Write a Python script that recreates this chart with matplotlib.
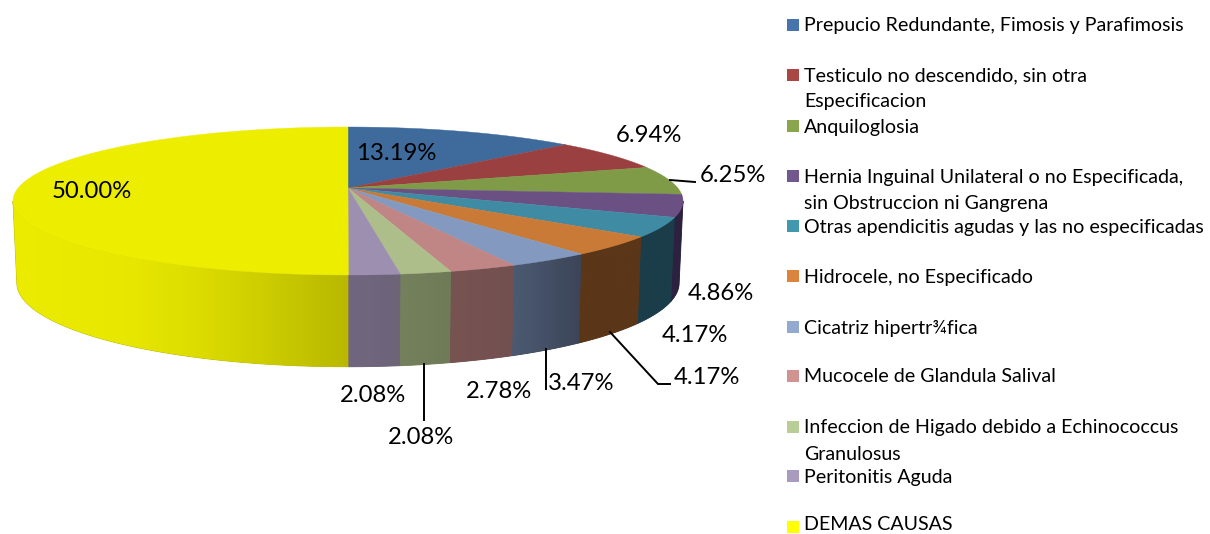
#!/usr/bin/env python3
"""Pie 3D de causas, con perspectiva, dibujado sobre un eje en pixeles"""

import numpy as np
import matplotlib
matplotlib.use('Agg')
import matplotlib.pyplot as plt
from matplotlib.colors import to_rgb
from matplotlib.patches import Polygon, Rectangle

# datos
categorias = [
    "Prepucio Redundante, Fimosis y Parafimosis",
    "Testiculo no descendido, sin otra\nEspecificacion",
    "Anquiloglosia",
    "Hernia Inguinal Unilateral o no Especificada,\nsin Obstruccion ni Gangrena",
    "Otras apendicitis agudas y las no especificadas",
    "Hidrocele, no Especificado",
    "Cicatriz hipertr¾fica",
    "Mucocele de Glandula Salival",
    "Infeccion de Higado debido a Echinococcus\nGranulosus",
    "Peritonitis Aguda",
    "DEMAS CAUSAS",
]
porcentajes = [13.19, 6.94, 6.25, 4.86, 4.17, 4.17, 3.47, 2.78, 2.08, 2.08, 50.00]

# colores
col_leyenda = ['#4674ab', '#aa4643', '#89a54e', '#71588f', '#4198af', '#db843d',
               '#93a9cf', '#d19392', '#b9cd96', '#a99bbd', '#ffff00']
col_tapa = ['#3f6a9c', '#9b4040', '#7f9b48', '#6a5083', '#3e8ba3', '#c87a36',
            '#8499bf', '#c08585', '#adbe8b', '#9c8fb0', '#eded00']
col_pared_izq = ['#000000', '#000000', '#000000', '#2c2240', '#1b3d4a', '#5b3618',
                 '#4c5b72', '#775452', '#75805d', '#706680', '#ecec00']
col_pared_der = ['#000000', '#000000', '#000000', '#2c2240', '#1b3d4a', '#5b3618',
                 '#3c4458', '#735050', '#6f7a58', '#6e6478', '#b8b800']

# etiquetas: (centro x, centro y) en pixeles, mismo orden que porcentajes
etiquetas_pos = [(396, 153), (649, 135), (733, 175), (721, 293), (695, 336), (707, 377),
                 (581, 383), (499, 391), (373, 395), (421, 438), (92, 192)]
guias = [([670, 695], [180, 182]),
         ([610, 658, 670], [332, 384, 384]),
         ([546, 546], [349, 389]),
         ([424, 424], [364, 420])]
leyenda_y = [25, 75, 126, 176, 226, 276, 327, 376, 427, 476, 527]

FUENTE = 'Lato'
CX = 348
K = 0.1757  # perspectiva


def aro(theta, a, b, cy):
    """Proyecta angulos (horario desde arriba) al plano de la imagen"""
    u, v = np.sin(theta), np.cos(theta)
    w = 1 + K * v
    return CX + a * u / w, cy - b * v / w


def tapa(theta):
    return aro(theta, 329.8, 71.7, 188)


def base(theta):
    return aro(theta, 326.0, 81.4, 268)


fig = plt.figure(figsize=(12.10, 5.34), dpi=100)
ax = fig.add_axes([0, 0, 1, 1])

cortes = np.radians(np.concatenate([[0], np.cumsum(porcentajes)]) * 3.6)
cortes[-1] = 2 * np.pi
lim_der, lim_izq = np.arccos(-K), 2 * np.pi - np.arccos(-K)

# paredes visibles
for i in range(len(porcentajes)):
    t0, t1 = max(cortes[i], lim_der), min(cortes[i + 1], lim_izq)
    if t1 <= t0:
        continue
    th = np.linspace(t0, t1, 200)
    xt, yt = tapa(th)
    xb, yb = base(th)
    pts = np.column_stack([np.concatenate([xt, xb[::-1]]), np.concatenate([yt, yb[::-1]])])
    x0, x1 = pts[:, 0].min(), pts[:, 0].max()
    y0, y1 = pts[:, 1].min(), pts[:, 1].max()
    frac = np.linspace(0, 1, 256)
    if i == len(porcentajes) - 1:
        # el amarillo se mantiene claro y oscurece hacia el centro
        frac = np.interp(frac, [0, 0.35, 0.55, 0.75, 1], [0, 0.1, 0.3, 0.6, 1])
    c0, c1 = np.array(to_rgb(col_pared_izq[i])), np.array(to_rgb(col_pared_der[i]))
    grad = (c0[None, :] * (1 - frac[:, None]) + c1[None, :] * frac[:, None])[None, :, :]
    # poligono debajo del degradado para que no queden rendijas blancas
    ax.add_patch(Polygon(pts, closed=True, facecolor=col_pared_der[i],
                         edgecolor=col_pared_der[i], lw=0.6, zorder=0.9))
    im = ax.imshow(grad, extent=(x0, x1, y1, y0), aspect='auto', zorder=1, interpolation='bilinear')
    clip = Polygon(pts, closed=True, transform=ax.transData, facecolor='none', edgecolor='none')
    ax.add_patch(clip)
    im.set_clip_path(clip)

ax.set_xlim(0, 1210)
ax.set_ylim(534, 0)
ax.axis('off')

# tapa
for i in range(len(porcentajes)):
    th = np.linspace(cortes[i], cortes[i + 1], 200)
    xt, yt = tapa(th)
    ax.fill(np.r_[CX, xt], np.r_[188, yt], color=col_tapa[i], lw=0.3, zorder=2)

# guias y etiquetas
for xs, ys in guias:
    ax.plot(xs, ys, color='black', lw=1.4, zorder=3, solid_joinstyle='miter')

for valor, (x, y) in zip(porcentajes, etiquetas_pos):
    ax.text(x, y, f"{valor:.2f}%", ha='center', va='center',
            fontsize=17.2, family=FUENTE, color='black', zorder=4)

# leyenda
for i, nombre in enumerate(categorias):
    y = leyenda_y[i]
    ax.add_patch(Rectangle((787, y - 6), 12, 12, facecolor=col_leyenda[i], edgecolor='none', zorder=3))
    for j, linea in enumerate(nombre.split('\n')):
        # la ultima linea queda justo en el borde inferior
        ax.text(804, min(y + 1 + 26 * j, 525), linea, ha='left', va='center', fontsize=14.1,
                family=FUENTE, color='black', zorder=4)

fig.savefig('out.png', dpi=100)
